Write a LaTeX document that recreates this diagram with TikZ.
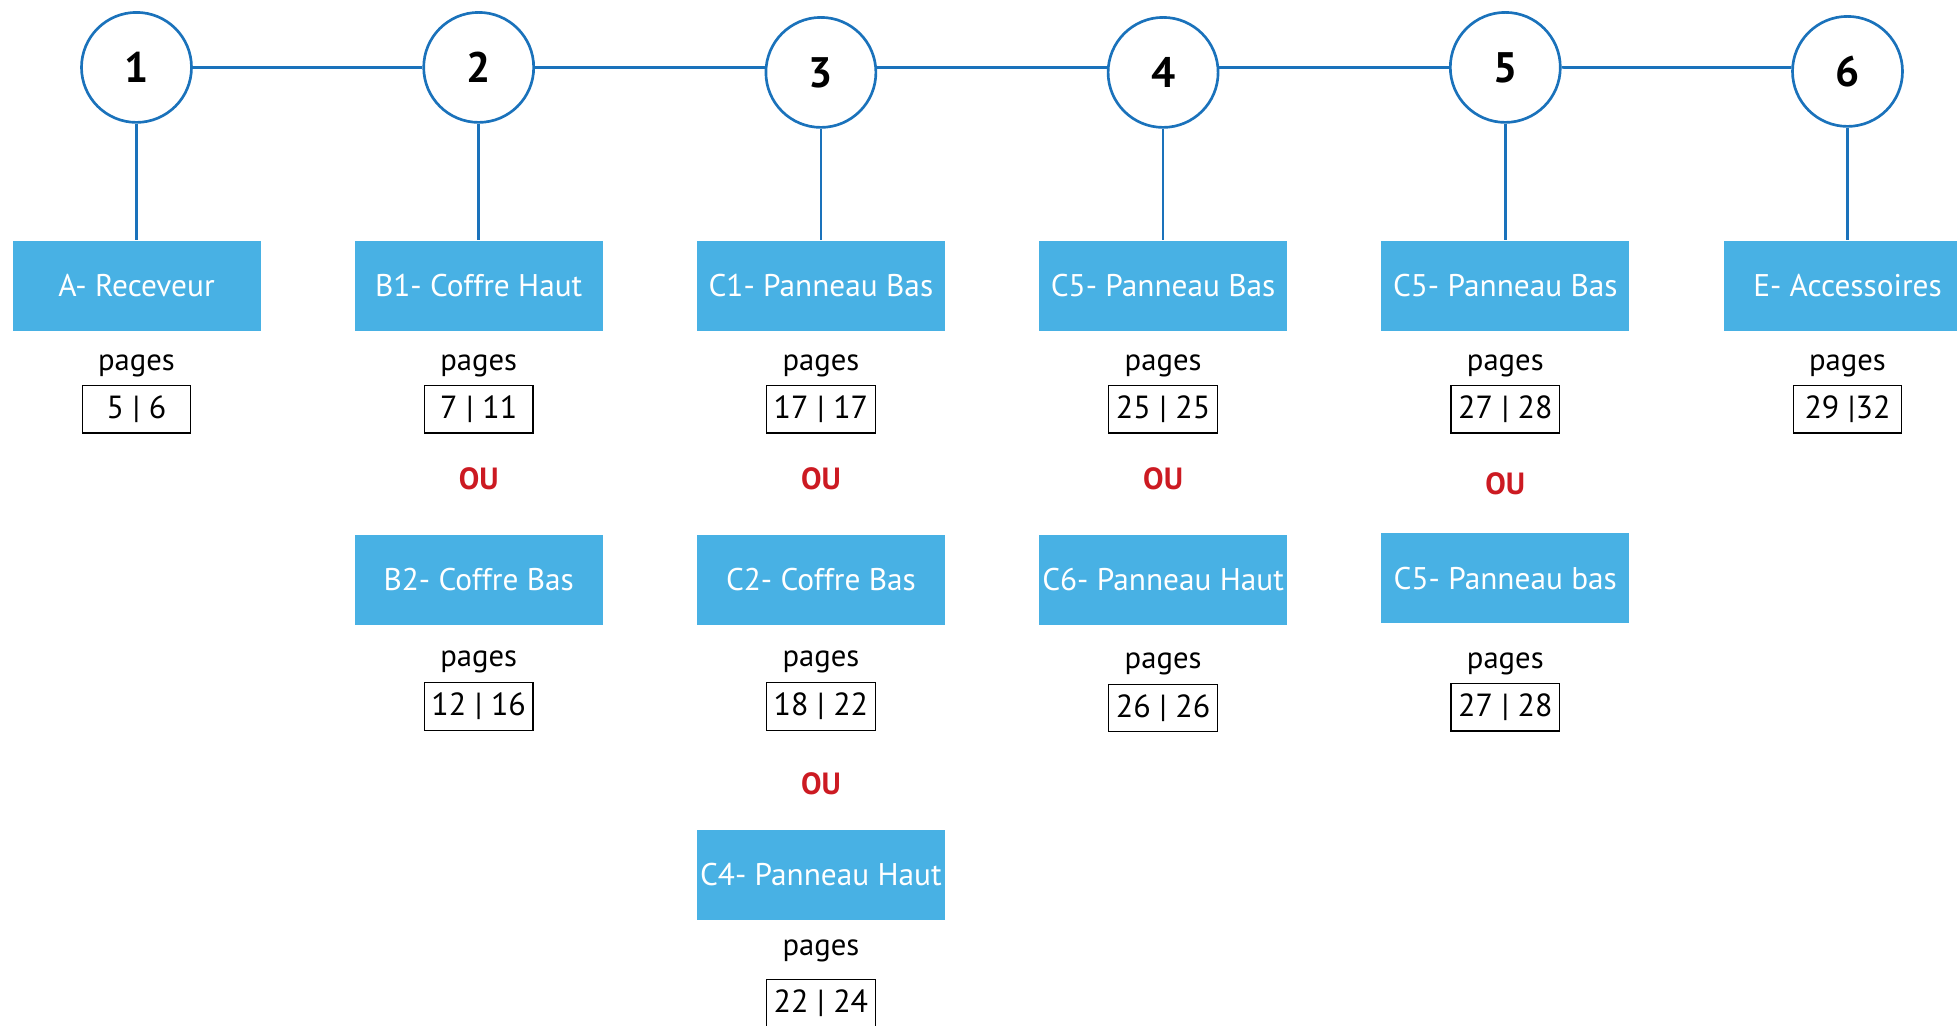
\documentclass[tikz,border=0pt]{standalone}
\usepackage{fontspec}
\setmainfont{PT Sans}
\usetikzlibrary{positioning}
\definecolor{lineblue}{HTML}{1A72BB}
\definecolor{boxblue}{HTML}{48B1E4}
\definecolor{oured}{HTML}{CC1A22}
\tikzset{
    stepnode/.style = {circle, line width=2pt, draw=lineblue, fill=white, minimum size=82.5pt, inner sep=0pt, font=\fontsize{32}{36}\selectfont\bfseries, text=black},
    partbox/.style = {rectangle, fill=boxblue, minimum width=186pt, minimum height=67.5pt, inner sep=0pt, font=\fontsize{23.5}{26}\selectfont, text=white},
    pagesnode/.style = {inner sep=0pt, font=\fontsize{23}{26}\selectfont, text=black},
    pagebox/.style = {rectangle, draw=black, line width=0.9pt, minimum width=81.5pt, minimum height=35.6pt, inner sep=0pt, font=\fontsize{24}{26}\selectfont, text=black},
    ounode/.style = {inner sep=0pt, font=\fontsize{23}{26}\selectfont\bfseries, text=oured},
    edgen/.style = {-, line width=2pt, lineblue},
}

\begin{document}
\begin{tikzpicture}[x=0.75pt,y=-0.75pt]
\path[use as bounding box] (0,0) rectangle (1957,1025);
\clip (0,0) rectangle (1957,1025);
%
\node[stepnode] at (136.5,67.4) (s1) {1};
\node[stepnode] at (478.7,67.4) (s2) {2};
\node[stepnode] at (820.9,72.4) (s3) {3};
\node[stepnode] at (1163.1,72.4) (s4) {4};
\node[stepnode] at (1505.3,67.4) (s5) {5};
\node[stepnode] at (1847.5,71.4) (s6) {6};
%
\node[partbox] at (136.5,285.5) (a) {A- Receveur};
\node[partbox] at (478.7,285.5) (b1) {B1- Coffre Haut};
\node[partbox] at (820.9,285.5) (c1) {C1- Panneau Bas};
\node[partbox] at (1163.1,285.5) (c5a) {C5- Panneau Bas};
\node[partbox] at (1505.3,285.5) (c5b) {C5- Panneau Bas};
\node[partbox] at (1847.5,285.5) (e) {E- Accessoires};
%
\node[pagesnode] at (136.5,365.7) (pa) {pages};
\node[pagesnode] at (478.7,365.7) (pb1) {pages};
\node[pagesnode] at (820.9,365.7) (pc1) {pages};
\node[pagesnode] at (1163.1,365.7) (pc5a) {pages};
\node[pagesnode] at (1505.3,365.7) (pc5b) {pages};
\node[pagesnode] at (1847.5,365.7) (pe) {pages};
%
\node[pagebox] at (136.5,409.3) (na) {5 | 6};
\node[pagebox] at (478.7,409.3) (nb1) {7 | 11};
\node[pagebox] at (820.9,409.3) (nc1) {17 | 17};
\node[pagebox] at (1163.1,409.3) (nc5a) {25 | 25};
\node[pagebox] at (1505.3,409.3) (nc5b) {27 | 28};
\node[pagebox] at (1847.5,409.3) (ne) {29 |32};
%
\node[ounode] at (478.7,479) (oub) {OU};
\node[ounode] at (820.9,479) (ouc) {OU};
\node[ounode] at (1163.1,479) (ouc5a) {OU};
\node[ounode] at (1505.3,484) (ouc5b) {OU};
%
\node[partbox] at (478.7,579.5) (b2) {B2- Coffre Bas};
\node[partbox] at (820.9,579.5) (c2) {C2- Coffre Bas};
\node[partbox] at (1163.1,580) (c6) {C6- Panneau Haut};
\node[partbox] at (1505.3,578.3) (c5c) {C5- Panneau bas};
%
\node[pagesnode] at (478.7,661.5) (pb2) {pages};
\node[pagesnode] at (820.9,661.5) (pc2) {pages};
\node[pagesnode] at (1163.1,664) (pc6) {pages};
\node[pagesnode] at (1505.3,664) (pc5c) {pages};
%
\node[pagebox] at (478.7,706.5) (nb2) {12 | 16};
\node[pagebox] at (820.9,706.5) (nc2) {18 | 22};
\node[pagebox] at (1163.1,708) (nc6) {26 | 26};
\node[pagebox] at (1505.3,707.3) (nc5c) {27 | 28};
%
\node[ounode] at (820.9,783.5) (ouc2) {OU};
\node[partbox] at (820.9,875) (c4) {C4- Panneau Haut};
\node[pagesnode] at (820.9,951) (pc4) {pages};
\node[pagebox] at (820.9,1003.5) (nc4) {22 | 24};
%
\draw[edgen] (s1) -- (s2);
\draw[edgen] (s2) -- (s3.175);
\draw[edgen] (s3.5) -- (s4.175);
\draw[edgen] (s4.5) -- (s5);
\draw[edgen] (s5) -- (s6.176);
%
\draw[edgen] (s1) -- (a);
\draw[edgen] (s2) -- (b1);
\draw[edgen] (s3) -- (c1);
\draw[edgen] (s4) -- (c5a);
\draw[edgen] (s5) -- (c5b);
\draw[edgen] (s6) -- (e);

\end{tikzpicture}
\end{document}
